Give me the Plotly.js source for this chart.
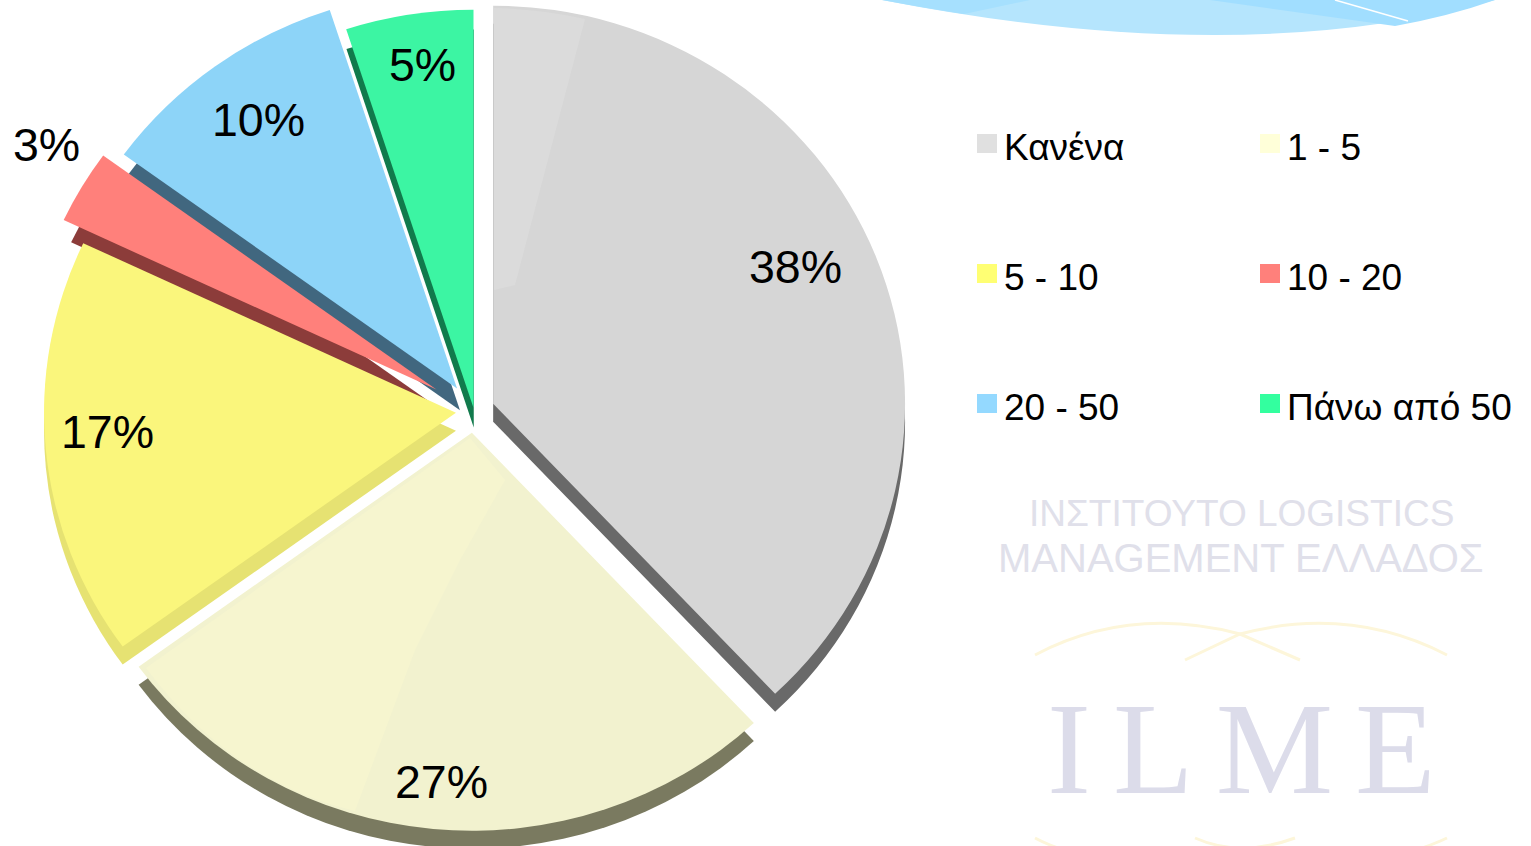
<!DOCTYPE html>
<html>
<head>
<meta charset="utf-8">
<script src="https://cdn.plot.ly/plotly-3.0.1.min.js"></script>
<style>
html,body{margin:0;padding:0;width:1531px;height:846px;overflow:hidden;background:#fff}
#chart{position:absolute;left:0;top:-80px;width:1531px;height:1000px}
/* the reference pie is tilted: slightly wider than tall */
.pielayer{transform-origin:474px 0;transform:scaleX(1.035)}
</style>
</head>
<body>
<div id="chart"></div>
<script>
// data
var categories = ["Κανένα", "1 - 5", "5 - 10", "10 - 20", "20 - 50", "Πάνω από 50"];
var shares = [38, 27, 17, 3, 10, 5];

// styles
var faceColors = ["#d6d6d6", "#f2f2cf", "#faf67c", "#ff807b", "#8dd4f8", "#3cf5a3"];
var sideColors = ["#696969", "#7a7a60", "#e6e272", "#8c3c3a", "#41677f", "#117a4c"];
var swatchColors = ["#e0e0e0", "#ffffd9", "#ffff73", "#ff807b", "#94d9ff", "#33ff9f"];
var facePulls = [0.05, 0.055, 0.044, 0.106, 0.07, 0.008];
var sidePulls = [0.05, 0.055, 0.044, 0.085, 0.058, 0.004];

// layout geometry (page pixels)
var W = 1531, H = 1000, TOP = 80;
var cx = 474, cy = 411, radius = 398, depth = 18;
var labelPos = [[796, 267], [441, 782], [108, 432], [46, 145], [258, 120], [422, 65]];
var legendCols = [977, 1260], legendRows = [134, 264, 394];

function X(px) { return px / W; }
function Y(py) { return 1 - (py + TOP) / H; }

function pie(colors, pulls, yc) {
  var half = radius * (1 + Math.max.apply(null, pulls));
  return {
    type: "pie", labels: categories, values: shares, sort: false,
    direction: "clockwise", rotation: 0, pull: pulls,
    marker: { colors: colors, line: { width: 0 } },
    textinfo: "none", hoverinfo: "skip", showlegend: false,
    domain: { x: [X(cx - half), X(cx + half)], y: [Y(yc + half), Y(yc - half)] }
  };
}

var FONT = "Liberation Sans, Arial, sans-serif";
var annotations = [], shapes = [];

function text(str, x, y, size, color, family, anchor) {
  annotations.push({
    text: str, x: X(x), y: Y(y), xref: "paper", yref: "paper",
    xanchor: anchor || "center", yanchor: "middle", showarrow: false,
    font: { family: family || FONT, size: size, color: color || "#000" }
  });
}

// percent labels
shares.forEach(function (v, i) {
  text(v + "%", labelPos[i][0], labelPos[i][1], 46.5);
});

// legend
categories.forEach(function (c, i) {
  var col = legendCols[i % 2], row = legendRows[Math.floor(i / 2)];
  shapes.push({
    type: "rect", xref: "paper", yref: "paper", x0: X(col), x1: X(col + 20),
    y0: Y(row), y1: Y(row + 19), fillcolor: swatchColors[i], line: { width: 0 }
  });
  text(c, col + 25, row + 13.5, 37, "#000", FONT, "left");
});

// decoration
function pathShape(points, fill, line, width, layer) {
  var d = points.map(function (s) { return s.join(" "); }).join(" ");
  return {
    type: "path", xref: "x", yref: "y", path: d, layer: layer || "below",
    fillcolor: fill, line: line ? { color: line, width: width } : { width: 0 }
  };
}
shapes.push(pathShape([["M", 882, 0], ["Q", 1240, 70, 1495, 0], ["Z"]], "#b5e5fd"));
shapes.push(pathShape([["M", 882, 0], ["Q", 925, 8, 964, 14], ["L", 1030, 0], ["Z"]], "#a6e0fe"));
shapes.push(pathShape([["M", 1210, 0], ["L", 1395, 26], ["Q", 1450, 16, 1495, 0], ["Z"]], "#a1deff"));
shapes.push(pathShape([["M", 1335, 0], ["L", 1408, 21]], "rgba(0,0,0,0)", "#ffffff", 1.5));
// gold arcs
var gold = "#fdf6da";
shapes.push(pathShape([["M", 1035, 655], ["Q", 1130, 605, 1240, 634], ["L", 1300, 660]], "rgba(0,0,0,0)", gold, 3));
shapes.push(pathShape([["M", 1447, 655], ["Q", 1350, 605, 1240, 634], ["L", 1185, 660]], "rgba(0,0,0,0)", gold, 3));
shapes.push(pathShape([["M", 1035, 838], ["Q", 1050, 846, 1065, 850]], "rgba(0,0,0,0)", gold, 3));
shapes.push(pathShape([["M", 1195, 838], ["Q", 1240, 858, 1295, 838]], "rgba(0,0,0,0)", gold, 3));
shapes.push(pathShape([["M", 1447, 838], ["Q", 1430, 846, 1415, 850]], "rgba(0,0,0,0)", gold, 3));
// soft highlights on the grey and beige faces
shapes.push(pathShape([["M", 494, 8], ["Q", 540, 9, 585, 19], ["L", 515, 285], ["L", 494, 290], ["Z"]], "#dbdbdb", null, 0, "above"));
shapes.push(pathShape([["M", 470, 438], ["L", 505, 480], ["L", 460, 560], ["L", 415, 650], ["L", 355, 811], ["Q", 232, 782, 146, 668], ["Z"]], "#f6f5cf", null, 0, "above"));

// watermark
text("ΙΝΣΤΙΤΟΥΤΟ LOGISTICS", 1241, 513, 37, "#e0e0ea");
text("MANAGEMENT ΕΛΛΑΔΟΣ", 1241, 558, 40, "#e0e0ea");
text("I\u200A\u200AL\u200A\u200AM\u200A\u200AE", 1241, 748, 132, "#dcdcea", "Liberation Serif, serif");

var layout = {
  width: W, height: H, margin: { l: 0, r: 0, t: 0, b: 0 },
  paper_bgcolor: "#fff", plot_bgcolor: "rgba(0,0,0,0)",
  showlegend: false, annotations: annotations, shapes: shapes,
  xaxis: { range: [0, W], visible: false, fixedrange: true },
  yaxis: { range: [H - TOP, -TOP], visible: false, fixedrange: true }
};
var helper = { type: "scatter", x: [0], y: [0], mode: "none", hoverinfo: "skip", showlegend: false };
Plotly.newPlot("chart", [helper, pie(sideColors, sidePulls, cy + depth), pie(faceColors, facePulls, cy)], layout, { displayModeBar: false, staticPlot: true });
</script>
</body>
</html>
